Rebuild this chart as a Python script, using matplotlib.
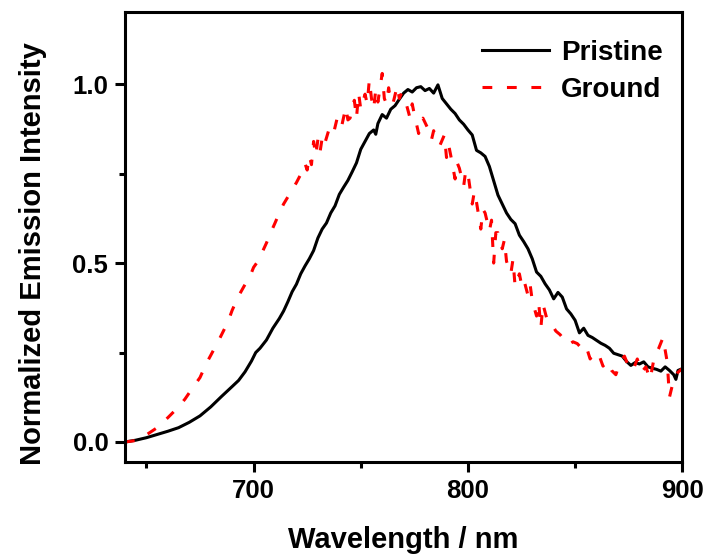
import numpy as np
import matplotlib as mpl
mpl.use('Agg')
import matplotlib.pyplot as plt
from matplotlib.ticker import MultipleLocator

# Pristine spectrum (wavelength nm, normalized intensity)
wl_pristine = [640, 645, 650, 655, 660, 665, 670, 675, 680, 685, 690, 693, 696, 699, 701, 703,
               706, 709, 712, 714, 716, 718, 720, 722, 724, 726, 728, 730, 732, 734, 736, 738,
               740, 742, 744, 746, 748, 750, 752, 754, 756, 757, 758, 760, 762, 764, 766, 768,
               770, 772, 774, 776, 778, 780, 782, 784, 786, 788, 790, 792, 794, 796, 798, 800,
               802, 804, 806, 808, 810, 812, 814, 816, 818, 820, 822, 824, 826, 828, 830, 832,
               834, 836, 838, 840, 842, 844, 846, 848, 850, 852, 854, 856, 858, 860, 862, 864,
               866, 868, 870, 872, 874, 876, 878, 880, 882, 884, 886, 888, 890, 892, 894, 896,
               897, 898, 900]
int_pristine = [0.000, 0.005, 0.012, 0.021, 0.030, 0.040, 0.055, 0.073, 0.098, 0.127, 0.155, 0.172,
                0.196, 0.226, 0.250, 0.262, 0.285, 0.318, 0.345, 0.366, 0.392, 0.420, 0.441, 0.470,
                0.492, 0.512, 0.535, 0.570, 0.595, 0.612, 0.640, 0.660, 0.692, 0.712, 0.731, 0.755,
                0.780, 0.818, 0.840, 0.862, 0.872, 0.860, 0.890, 0.915, 0.905, 0.930, 0.940, 0.958,
                0.975, 0.985, 0.978, 0.990, 0.993, 0.982, 0.988, 0.975, 0.998, 0.960, 0.945, 0.930,
                0.918, 0.900, 0.888, 0.872, 0.858, 0.815, 0.808, 0.798, 0.770, 0.730, 0.690, 0.665,
                0.640, 0.622, 0.610, 0.578, 0.560, 0.540, 0.512, 0.475, 0.463, 0.442, 0.425, 0.400,
                0.418, 0.405, 0.372, 0.358, 0.340, 0.305, 0.318, 0.298, 0.292, 0.284, 0.276, 0.270,
                0.262, 0.248, 0.244, 0.240, 0.225, 0.214, 0.222, 0.218, 0.224, 0.210, 0.206, 0.203,
                0.198, 0.210, 0.200, 0.188, 0.175, 0.200, 0.205]

# Ground spectrum
wl_ground = [640, 645, 650, 655, 660, 665, 668, 672, 675, 678, 680, 684, 688, 690, 693, 696,
             698, 700, 702, 704, 706, 708, 710, 712, 714, 716, 718, 720, 722, 724, 725, 726,
             727, 728, 729, 730, 731, 732, 733, 735, 737, 739, 741, 743, 744, 745, 747, 748,
             749, 750, 752, 753, 754, 755, 756, 757, 758, 759, 760, 761, 762, 763, 764, 765,
             767, 768, 769, 771, 773, 774, 775, 777, 778, 779, 781, 783, 784, 785, 787, 789,
             790, 791, 792, 794, 795, 796, 798, 799, 800, 802, 803, 804, 806, 807, 808, 810,
             811, 812, 813, 814, 816, 817, 818, 820, 821, 822, 824, 825, 826, 828, 829, 830,
             832, 833, 834, 835, 837, 839, 841, 843, 845, 847, 849, 851, 853, 855, 857, 859,
             861, 863, 865, 867, 869, 871, 873, 875, 877, 879, 881, 883, 885, 887, 889, 891,
             893, 894, 896, 898, 900]
int_ground = [0.000, 0.004, 0.020, 0.040, 0.068, 0.098, 0.120, 0.155, 0.180, 0.220, 0.242, 0.287,
              0.335, 0.368, 0.408, 0.440, 0.458, 0.488, 0.505, 0.530, 0.556, 0.585, 0.612, 0.640,
              0.665, 0.685, 0.705, 0.725, 0.748, 0.778, 0.760, 0.800, 0.775, 0.840, 0.800, 0.845,
              0.810, 0.850, 0.830, 0.870, 0.855, 0.905, 0.880, 0.935, 0.900, 0.905, 0.955, 0.905,
              0.975, 0.930, 0.972, 0.945, 1.012, 0.960, 0.930, 0.985, 0.950, 0.990, 1.030, 0.960,
              0.945, 0.990, 0.950, 0.945, 0.995, 0.960, 0.975, 0.950, 0.905, 0.945, 0.915, 0.862,
              0.900, 0.905, 0.880, 0.845, 0.870, 0.850, 0.830, 0.858, 0.795, 0.830, 0.800, 0.735,
              0.780, 0.765, 0.715, 0.760, 0.750, 0.665, 0.700, 0.670, 0.595, 0.650, 0.640, 0.590,
              0.620, 0.500, 0.585, 0.585, 0.540, 0.565, 0.505, 0.470, 0.510, 0.435, 0.470, 0.440,
              0.455, 0.410, 0.440, 0.395, 0.352, 0.390, 0.318, 0.385, 0.340, 0.330, 0.310, 0.300,
              0.285, 0.272, 0.280, 0.275, 0.262, 0.270, 0.232, 0.250, 0.245, 0.212, 0.225, 0.200,
              0.188, 0.225, 0.240, 0.210, 0.200, 0.232, 0.195, 0.210, 0.175, 0.240, 0.262, 0.292,
              0.222, 0.125, 0.175, 0.195, 0.205]

plt.rcParams.update({
    "font.family": ["Liberation Sans", "DejaVu Sans"],
    "font.weight": "bold",
    "font.size": 18,
    "axes.linewidth": 2.2,
    "xtick.direction": "out",
    "ytick.direction": "out",
})

fig = plt.figure(figsize=(7.10, 5.56), dpi=100)
ax = fig.add_axes([0.176, 0.169, 0.785, 0.809])

ax.plot(wl_pristine, int_pristine, color="black", lw=2.2, label="Pristine")
ax.plot(wl_ground, int_ground, color="red", lw=2.2, dashes=(3.2, 4.8), label="Ground")

ax.set_xlim(640, 900)
ax.set_ylim(-0.056, 1.201)
ax.xaxis.set_major_locator(MultipleLocator(100))
ax.xaxis.set_minor_locator(MultipleLocator(50))
ax.yaxis.set_major_locator(MultipleLocator(0.5))
ax.yaxis.set_minor_locator(MultipleLocator(0.25))
ax.yaxis.set_major_formatter(mpl.ticker.FormatStrFormatter('%.1f'))
ax.tick_params(which="major", length=7, width=2.2, labelsize=18.5, pad=5)
ax.tick_params(which="minor", length=4, width=2.2)
ax.tick_params(top=False, right=False)

ax.set_xlabel("Wavelength / nm", fontsize=21, fontweight="bold", labelpad=17)
ax.set_ylabel("Normalized Emission Intensity", fontsize=21, fontweight="bold",
              labelpad=18, y=0.464)

leg = ax.legend(loc="upper right", bbox_to_anchor=(1.0, 0.982), frameon=False, fontsize=20,
                handlelength=2.4, handletextpad=0.45, labelspacing=0.4, borderaxespad=0.3)

fig.savefig("out.png", dpi=100)
